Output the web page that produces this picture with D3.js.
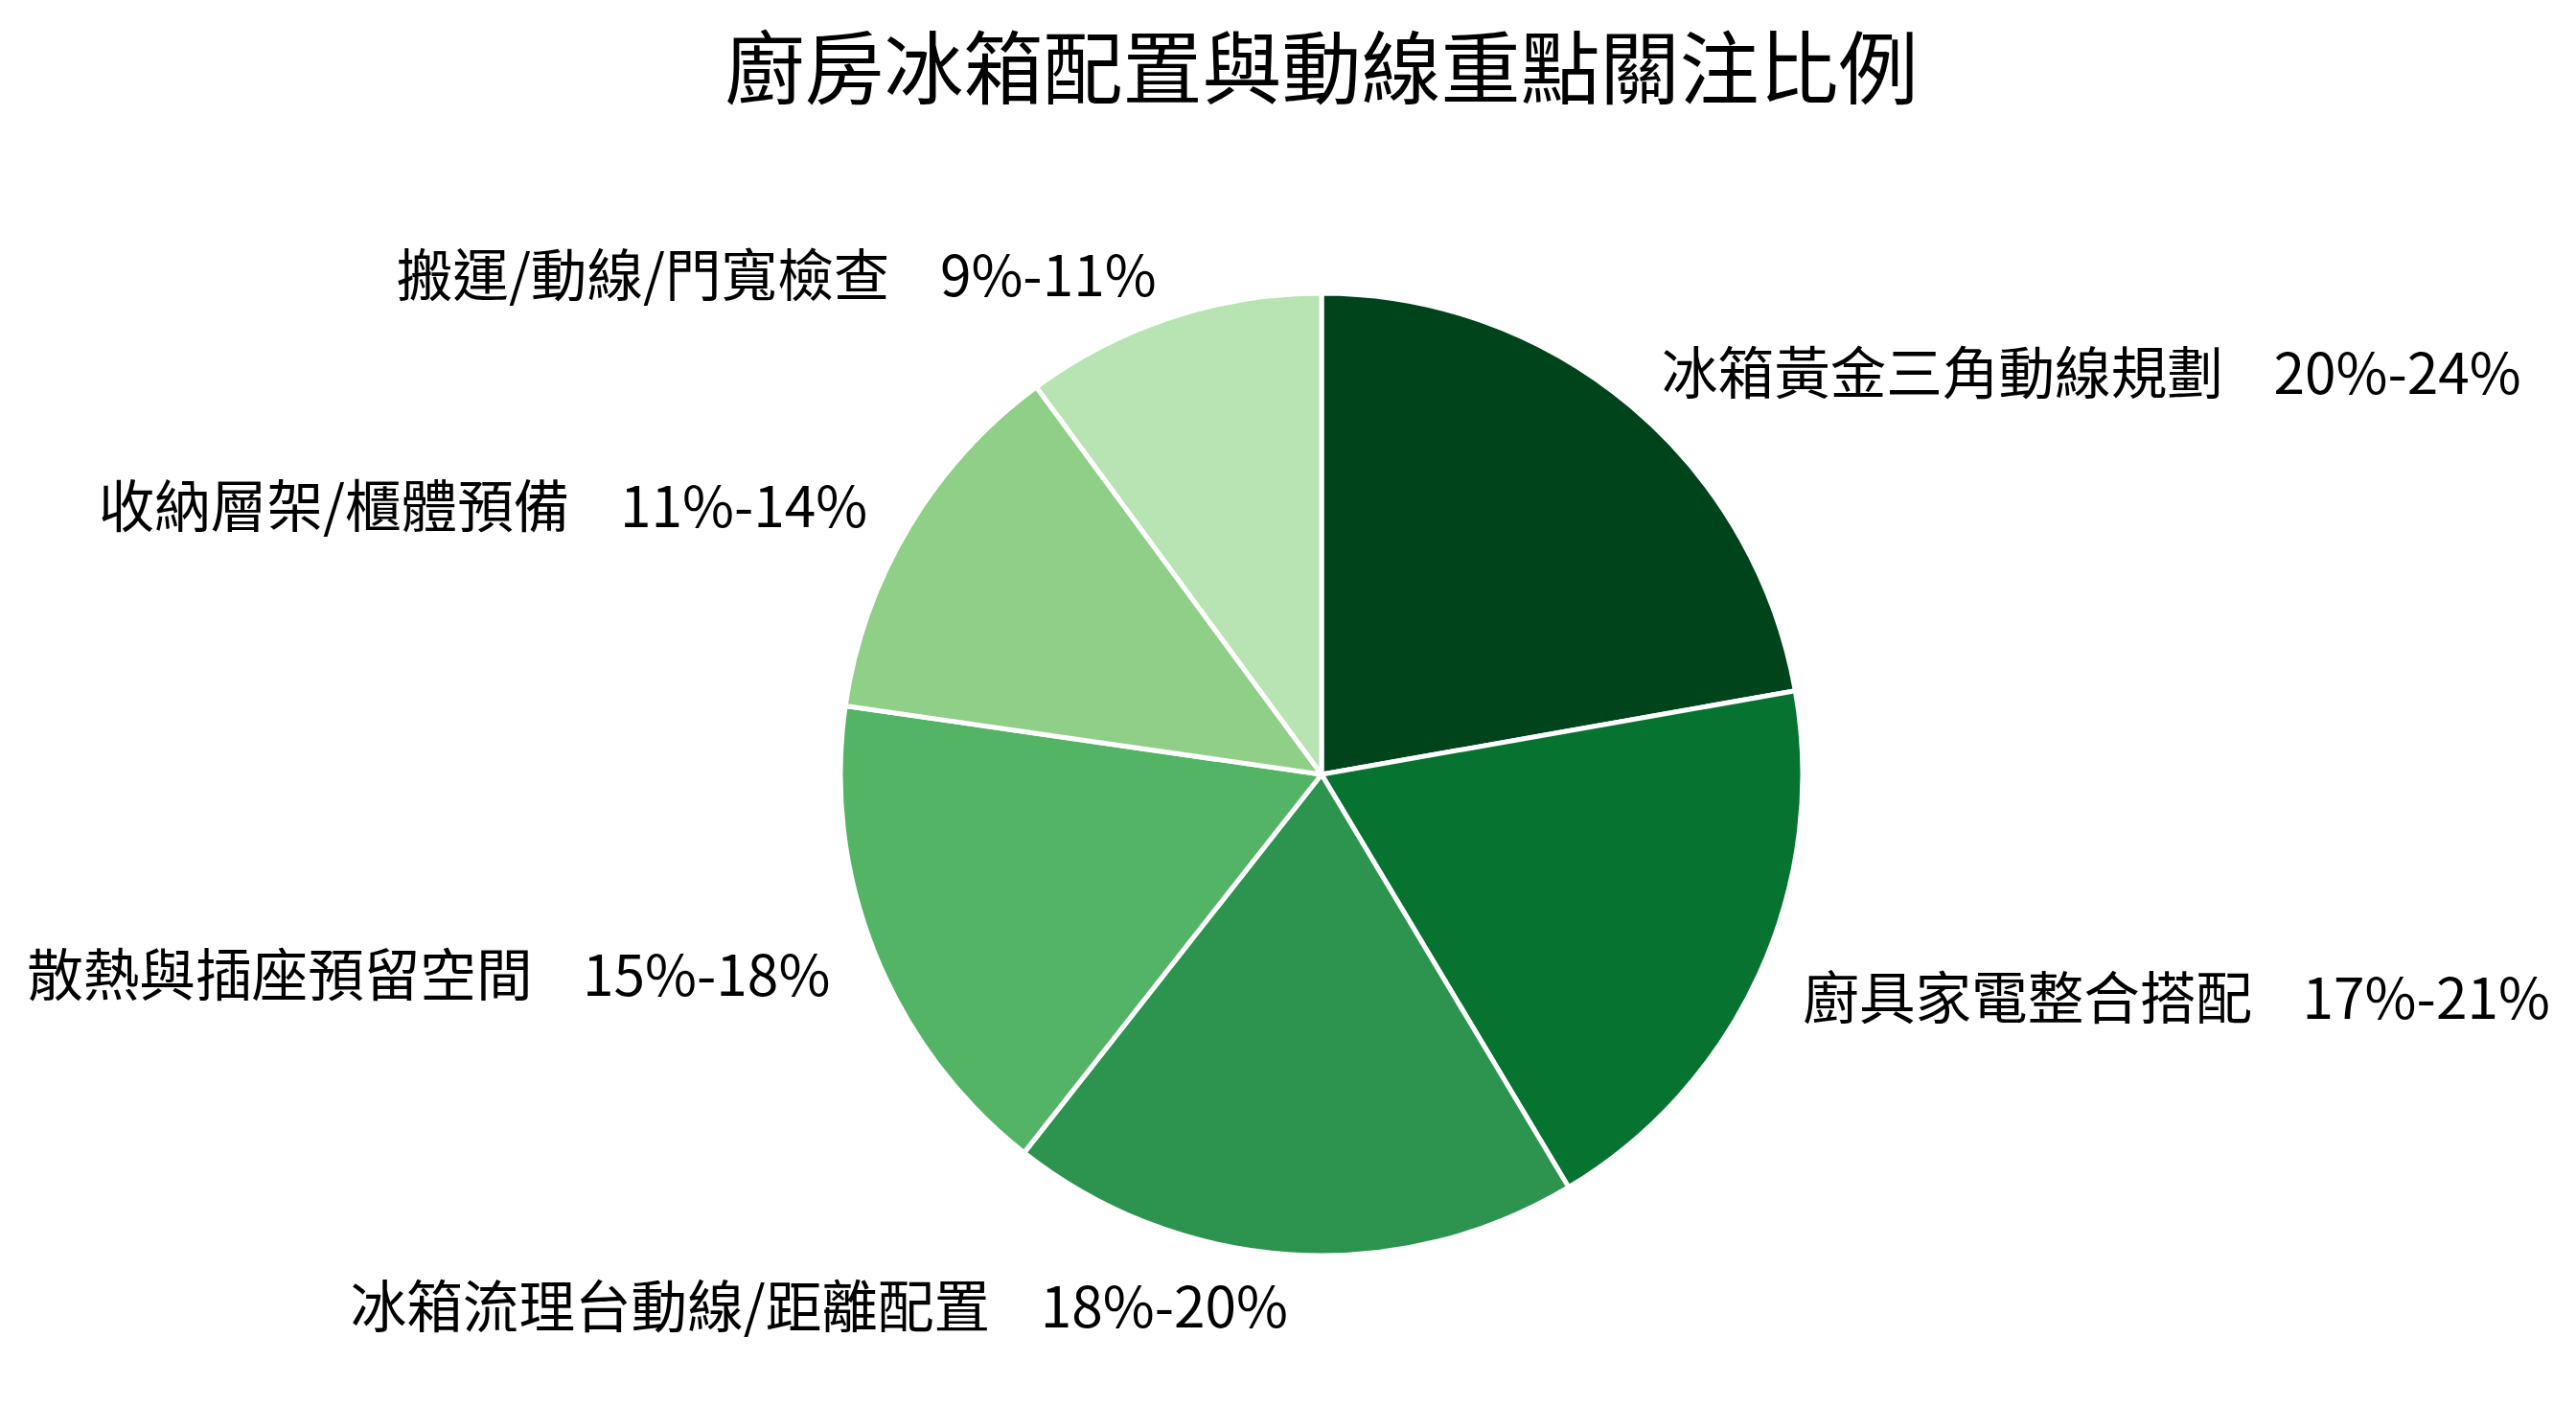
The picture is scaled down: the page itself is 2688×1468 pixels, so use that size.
<!DOCTYPE html>
<html>
<head>
<meta charset="utf-8">
<script src="https://cdn.jsdelivr.net/npm/d3@7"></script>
<style>
  html, body { margin: 0; padding: 0; background: #fff; }
  svg { display: block; }
</style>
</head>
<body>
<svg id="main" width="2688" height="1468"></svg>
<script>
const title = "廚房冰箱配置與動線重點關注比例";
const categories = [
  "冰箱黃金三角動線規劃",
  "廚具家電整合搭配",
  "冰箱流理台動線/距離配置",
  "散熱與插座預留空間",
  "收納層架/櫃體預備",
  "搬運/動線/門寬檢查"
];
const lows = [20, 17, 18, 15, 11, 9];
const highs = [24, 21, 20, 18, 14, 11];
const values = [22, 19, 19, 16.5, 12.5, 10];
const colors = ["#00441b", "#077331", "#2c944f", "#53b466", "#8fcf87", "#b8e3b2"];

const width = 2688, height = 1468;
const cx = 1379, cy = 808, radius = 502;

const svg = d3.select("#main");

svg.append("text")
  .attr("x", cx)
  .attr("y", 66)
  .attr("text-anchor", "middle")
  .attr("dominant-baseline", "central")
  .attr("font-family", "'Noto Sans CJK TC', 'Noto Sans', sans-serif")
  .attr("font-size", 83)
  .attr("fill", "#000")
  .text(title);

const rows = categories.map((c, i) => ({ name: c, low: lows[i], high: highs[i], value: values[i], color: colors[i] }));

const pie = d3.pie().sort(null).value(d => d.value);
const arc = d3.arc().innerRadius(0).outerRadius(radius);
const arcs = pie(rows);

const g = svg.append("g").attr("transform", `translate(${cx},${cy})`);

g.selectAll("path")
  .data(arcs)
  .enter()
  .append("path")
  .attr("d", arc)
  .attr("fill", d => d.data.color)
  .attr("stroke", "#fff")
  .attr("stroke-width", 5)
  .attr("stroke-linejoin", "round");

// labels at 1.1 x radius along the middle angle of each slice
const labelR = radius * 1.1;
g.selectAll("text.label")
  .data(arcs)
  .enter()
  .append("text")
  .attr("class", "label")
  .attr("x", d => labelR * Math.sin((d.startAngle + d.endAngle) / 2))
  .attr("y", d => -labelR * Math.cos((d.startAngle + d.endAngle) / 2))
  .attr("text-anchor", d => Math.sin((d.startAngle + d.endAngle) / 2) > 0 ? "start" : "end")
  .attr("dominant-baseline", "central")
  .attr("font-family", "'Noto Sans CJK TC', 'Noto Sans', sans-serif")
  .attr("font-size", 58.6)
  .attr("fill", "#000")
  .style("white-space", "pre")
  .text(d => `${d.data.name}    ${d.data.low}%-${d.data.high}%`);
</script>
</body>
</html>
